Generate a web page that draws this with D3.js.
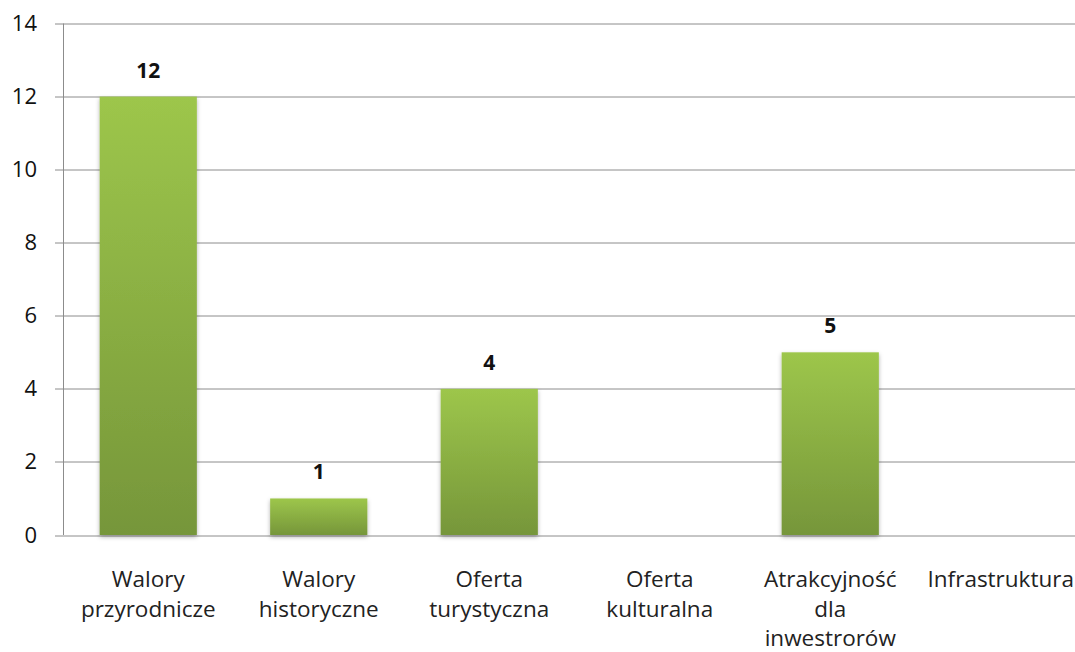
<!DOCTYPE html>
<html>
<head>
<meta charset="utf-8">
<script src="https://cdn.jsdelivr.net/npm/d3@7"></script>
<style>
  body { margin: 0; background: #fff; }
  text { font-family: "Open Sans", Lato, sans-serif; }
</style>
</head>
<body>
<div id="chart"></div>
<script>
var svgWidth = 1075;
var svgHeight = 652;

// data
var categories = [
    ["Walory", "przyrodnicze"],
    ["Walory", "historyczne"],
    ["Oferta", "turystyczna"],
    ["Oferta", "kulturalna"],
    ["Atrakcyjność", "dla", "inwestrorów"],
    ["Infrastruktura"]
];
var values = [12, 1, 4, 0, 5, 0];
var yTicks = [0, 2, 4, 6, 8, 10, 12, 14];

var margin = { top: 23.5, left: 63, right: -11, bottom: 117 };
var width = svgWidth - margin.left - margin.right;
var height = svgHeight - margin.top - margin.bottom;

var svg = d3.select("#chart").append("svg").attr("width", svgWidth).attr("height", svgHeight);

var defs = svg.append("defs");
var grad = defs.append("linearGradient").attr("id", "barGrad").attr("x1", 0).attr("y1", 0).attr("x2", 0).attr("y2", 1);
grad.append("stop").attr("offset", "0%").attr("stop-color", "#9dc64b");
grad.append("stop").attr("offset", "100%").attr("stop-color", "#76963a");

var shadow = defs.append("filter").attr("id", "shadow").attr("x", "-20%").attr("y", "-20%").attr("width", "140%").attr("height", "140%");
shadow.append("feDropShadow").attr("dx", 0).attr("dy", 2).attr("stdDeviation", 2).attr("flood-color", "#000").attr("flood-opacity", 0.3);

var chartGroup = svg.append("g").attr("transform", `translate(${margin.left},${margin.top})`);

var xScale = d3.scaleBand().domain(d3.range(categories.length)).range([0, width]).paddingInner(0.43).paddingOuter(0.215);
var yScale = d3.scaleLinear().domain([0, 14]).range([height, 0]);

// gridlines
chartGroup.append("g").selectAll("line").data(yTicks).enter().append("line")
    .attr("x1", -8).attr("x2", width)
    .attr("y1", d => Math.round(yScale(d)) + 0.5).attr("y2", d => Math.round(yScale(d)) + 0.5)
    .attr("stroke", "#8c8c8c").attr("stroke-width", 1);

// y axis
var leftAxis = d3.axisLeft(yScale).tickValues(yTicks).tickSize(0).tickPadding(26);
var yAxis = chartGroup.append("g").call(leftAxis);
yAxis.select(".domain").remove();
yAxis.selectAll("text").attr("font-size", "22px").attr("font-family", "'Open Sans', sans-serif").attr("fill", "#111");
chartGroup.append("line").attr("x1", 0.5).attr("x2", 0.5).attr("y1", 0).attr("y2", height)
    .attr("stroke", "#8c8c8c");

var barData = values.map((v, i) => ({ i: i, v: v })).filter(d => d.v > 0);

// bars
chartGroup.selectAll("rect.bar").data(barData).enter().append("rect")
    .attr("class", "bar")
    .attr("x", d => xScale(d.i))
    .attr("width", xScale.bandwidth())
    .attr("y", d => yScale(d.v))
    .attr("height", d => height - yScale(d.v))
    .attr("fill", "url(#barGrad)")
    .attr("filter", "url(#shadow)");

// value labels
chartGroup.selectAll("text.val").data(barData).enter().append("text")
    .attr("class", "val")
    .attr("x", d => xScale(d.i) + xScale.bandwidth() / 2)
    .attr("y", d => yScale(d.v) - 19)
    .attr("text-anchor", "middle")
    .attr("font-size", "21px").attr("font-weight", "bold").attr("fill", "#111")
    .text(d => d.v);

// category labels
var catGroup = chartGroup.selectAll("text.cat").data(categories).enter().append("text")
    .attr("class", "cat")
    .attr("text-anchor", "middle")
    .attr("font-size", "22.5px").attr("fill", "#222")
    .attr("transform", (d, i) => `translate(${xScale(i) + xScale.bandwidth() / 2},${height + 52})`);
catGroup.selectAll("tspan").data(d => d).enter().append("tspan")
    .attr("x", 0).attr("y", (d, j) => j * 29.5)
    .text(d => d);
</script>
</body>
</html>
